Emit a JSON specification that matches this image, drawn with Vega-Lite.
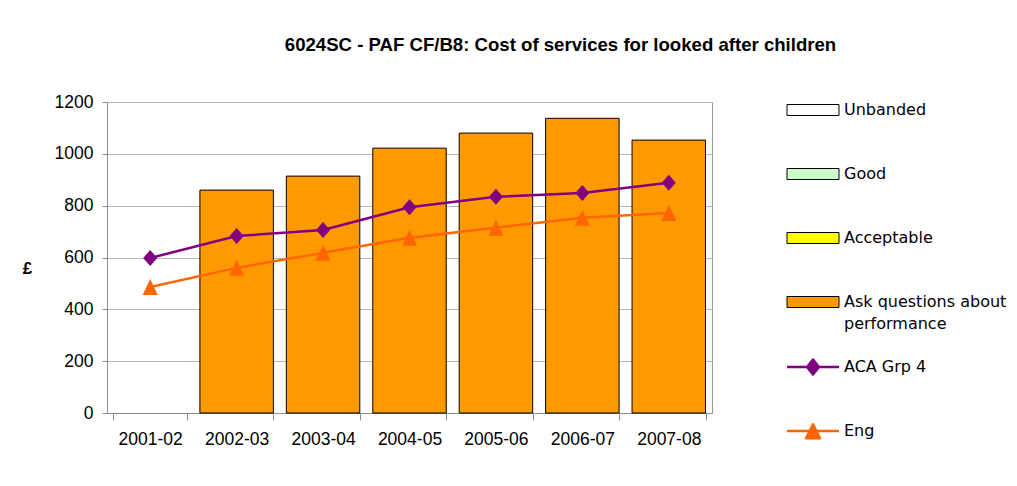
{
  "$schema": "https://vega.github.io/schema/vega-lite/v6.json",
  "width": 605,
  "height": 311,
  "autosize": {"type": "none"},
  "padding": {"left": 107, "top": 102, "right": 305, "bottom": 73},
  "background": "#ffffff",
  "title": {
    "text": "6024SC - PAF CF/B8: Cost of services for looked after children",
    "font": "Liberation Sans",
    "fontSize": 18.6,
    "fontWeight": "bold",
    "color": "#000000",
    "anchor": "middle",
    "frame": "group",
    "dx": 151,
    "offset": 23,
    "baseline": "alphabetic"
  },
  "config": {
    "view": {"stroke": "#9a9a9a", "strokeWidth": 1},
    "axis": {
      "domainColor": "#8c8c8c",
      "tickColor": "#8c8c8c",
      "gridColor": "#b8b8b8",
      "labelFont": "Liberation Sans",
      "labelFontSize": 17.5,
      "labelColor": "#000000"
    }
  },
  "data": {
    "values": [
      {"year": "2002-03", "series": "Ask questions about performance", "value": 860},
      {"year": "2003-04", "series": "Ask questions about performance", "value": 914},
      {"year": "2004-05", "series": "Ask questions about performance", "value": 1022},
      {"year": "2005-06", "series": "Ask questions about performance", "value": 1080},
      {"year": "2006-07", "series": "Ask questions about performance", "value": 1137},
      {"year": "2007-08", "series": "Ask questions about performance", "value": 1053},
      {"year": "2001-02", "series": "ACA Grp 4", "value": 598},
      {"year": "2002-03", "series": "ACA Grp 4", "value": 683},
      {"year": "2003-04", "series": "ACA Grp 4", "value": 706},
      {"year": "2004-05", "series": "ACA Grp 4", "value": 794},
      {"year": "2005-06", "series": "ACA Grp 4", "value": 834},
      {"year": "2006-07", "series": "ACA Grp 4", "value": 849},
      {"year": "2007-08", "series": "ACA Grp 4", "value": 888},
      {"year": "2001-02", "series": "Eng", "value": 486},
      {"year": "2002-03", "series": "Eng", "value": 560},
      {"year": "2003-04", "series": "Eng", "value": 618},
      {"year": "2004-05", "series": "Eng", "value": 676},
      {"year": "2005-06", "series": "Eng", "value": 715},
      {"year": "2006-07", "series": "Eng", "value": 753},
      {"year": "2007-08", "series": "Eng", "value": 772}
    ]
  },
  "encoding": {
    "x": {
      "field": "year",
      "type": "nominal",
      "sort": ["2001-02", "2002-03", "2003-04", "2004-05", "2005-06", "2006-07", "2007-08"],
      "scale": {"paddingInner": 0.15, "paddingOuter": 0.075},
      "axis": {
        "title": null,
        "labelAngle": 0,
        "tickBand": "extent",
        "tickSize": 7,
        "labelPadding": 10,
        "grid": false
      }
    },
    "y": {
      "field": "value",
      "type": "quantitative",
      "scale": {"domain": [0, 1200], "nice": false},
      "axis": {
        "title": "£",
        "titleFont": "Liberation Sans",
        "titleFontSize": 17,
        "titleFontWeight": "bold",
        "titleColor": "#000000",
        "titleAngle": 0,
        "titleAlign": "center",
        "titleBaseline": "middle",
        "titleX": -80,
        "titleY": 166,
        "values": [0, 200, 400, 600, 800, 1000, 1200],
        "format": "d",
        "tickSize": 5,
        "labelPadding": 9,
        "grid": true
      }
    }
  },
  "layer": [
    {
      "transform": [{"filter": "datum.series == 'Ask questions about performance'"}],
      "mark": {"type": "bar", "stroke": "#000000", "strokeWidth": 1},
      "encoding": {
        "color": {
          "field": "series",
          "type": "nominal",
          "scale": {
            "domain": ["Unbanded", "Good", "Acceptable", "Ask questions about performance", "ACA Grp 4", "Eng"],
            "range": ["#ffffff", "#ccffcc", "#ffff00", "#ff9900", "#800080", "#ff6600"]
          },
          "legend": {
            "title": null,
            "orient": "right",
            "offset": 93,
            "padding": 0,
            "symbolSize": 100,
            "labelOffset": 23,
            "rowPadding": 26,
            "labelFont": "DejaVu Sans",
            "labelFontSize": 16,
            "labelColor": "#000000",
            "labelLimit": 300,
            "labelExpr": "datum.label == 'Ask questions about performance' ? ['Ask questions about', 'performance'] : [datum.label, '']",
            "encoding": {
              "symbols": {
                "shape": {"value": {"expr": "datum.value == 'ACA Grp 4' ? 'M-5.2,0H5.2M0,-1.5L1.2,0L0,1.5L-1.2,0Z' : datum.value == 'Eng' ? 'M-5.2,0H5.2M0,-1.35L1.4,1.45H-1.4Z' : 'M-5.2,-1.1H5.2V1.1H-5.2Z'"}},
                "stroke": {"value": {"expr": "datum.value == 'ACA Grp 4' ? '#800080' : datum.value == 'Eng' ? '#ff6600' : '#000000'"}},
                "strokeWidth": {"value": {"expr": "datum.value == 'ACA Grp 4' || datum.value == 'Eng' ? 2.5 : 1"}},
                "strokeJoin": {"value": "round"},
                "opacity": {"value": 1},
                "fillOpacity": {"value": 1},
                "strokeOpacity": {"value": 1}
              },
              "labels": {
                "lineHeight": {"value": 22}
              }
            }
          }
        }
      }
    },
    {
      "transform": [{"filter": "datum.series == 'ACA Grp 4'"}],
      "mark": {"type": "line", "color": "#800080", "strokeWidth": 2.5}
    },
    {
      "transform": [{"filter": "datum.series == 'Eng'"}],
      "mark": {"type": "line", "color": "#ff6600", "strokeWidth": 2.5}
    },
    {
      "transform": [{"filter": "datum.series == 'ACA Grp 4'"}],
      "mark": {"type": "point", "filled": true, "color": "#800080", "opacity": 1, "size": 256, "shape": "M0,-1L0.88,0L0,1L-0.88,0Z"}
    },
    {
      "transform": [{"filter": "datum.series == 'Eng'"}],
      "mark": {"type": "point", "filled": true, "color": "#ff6600", "opacity": 1, "size": 256, "shape": "M0,-1L0.95,1H-0.95Z"}
    }
  ]
}
